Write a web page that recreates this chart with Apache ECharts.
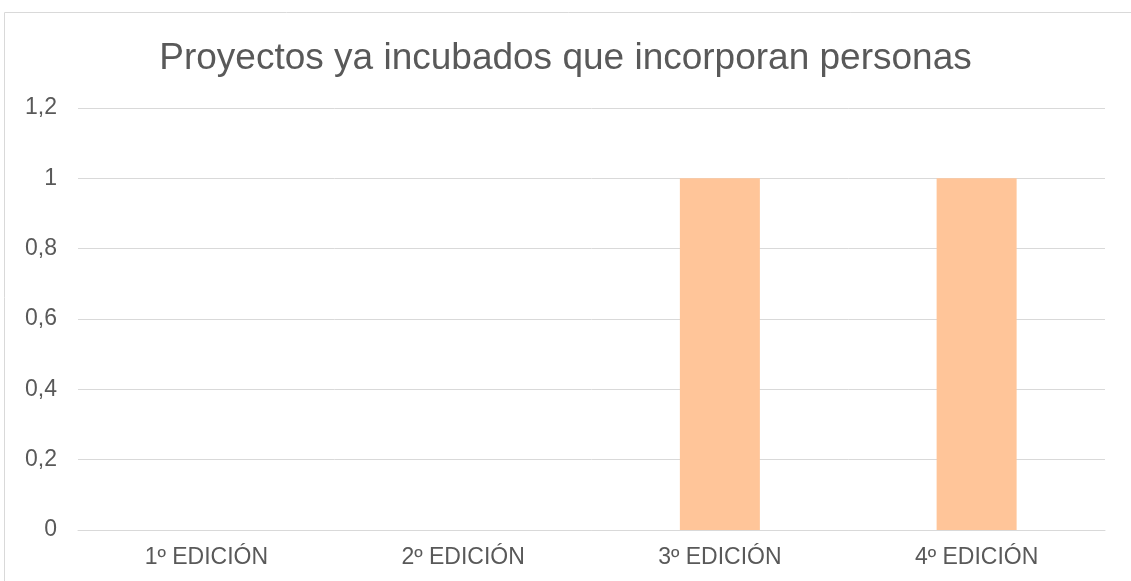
<!DOCTYPE html>
<html>
<head>
<meta charset="utf-8">
<style>
  html, body { margin: 0; padding: 0; background: #ffffff; }
  #chart { width: 1131px; height: 581px; }
</style>
<script src="https://cdn.jsdelivr.net/npm/echarts@6/dist/echarts.min.js"></script>
</head>
<body>
<div id="chart"></div>
<script>
// Editions and the number of incubated projects that incorporate people
const categories = ['1º EDICIÓN', '2º EDICIÓN', '3º EDICIÓN', '4º EDICIÓN'];
const values = [0, 0, 1, 1];
const yTicks = { min: 0, max: 1.2, interval: 0.2 };

const chart = echarts.init(document.getElementById('chart'), null, { renderer: 'canvas' });

const textColor = '#595959';
const font = '"Liberation Sans", Arial, sans-serif';

chart.setOption({
  animation: false,
  title: {
    text: 'Proyectos ya incubados que incorporan personas',
    left: 'center',
    top: 35,
    textStyle: { color: textColor, fontFamily: font, fontSize: 37, fontWeight: 'normal' }
  },
  graphic: [{
    type: 'rect',
    shape: { x: 4.5, y: 12.5, width: 1200, height: 700 },
    style: { fill: 'none', stroke: '#d9d9d9', lineWidth: 1 },
    silent: true
  }],
  grid: { left: 78, right: 26, top: 108, bottom: 51, containLabel: false },
  xAxis: {
    type: 'category',
    data: categories,
    axisLine: { show: true, lineStyle: { color: '#d9d9d9', width: 1 } },
    axisTick: { show: false },
    axisLabel: { color: textColor, fontFamily: font, fontSize: 23, margin: 16 }
  },
  yAxis: {
    type: 'value',
    min: yTicks.min,
    max: yTicks.max,
    interval: yTicks.interval,
    axisLine: { show: false },
    axisTick: { show: false },
    splitLine: { lineStyle: { color: '#d9d9d9', width: 1 } },
    axisLabel: {
      color: textColor, fontFamily: font, fontSize: 23, margin: 21,
      formatter: v => String(Math.round(v * 10) / 10).replace('.', ',')
    }
  },
  series: [{
    type: 'bar',
    data: values,
    barWidth: 80,
    itemStyle: { color: '#FFC599' }
  }]
});
</script>
</body>
</html>
